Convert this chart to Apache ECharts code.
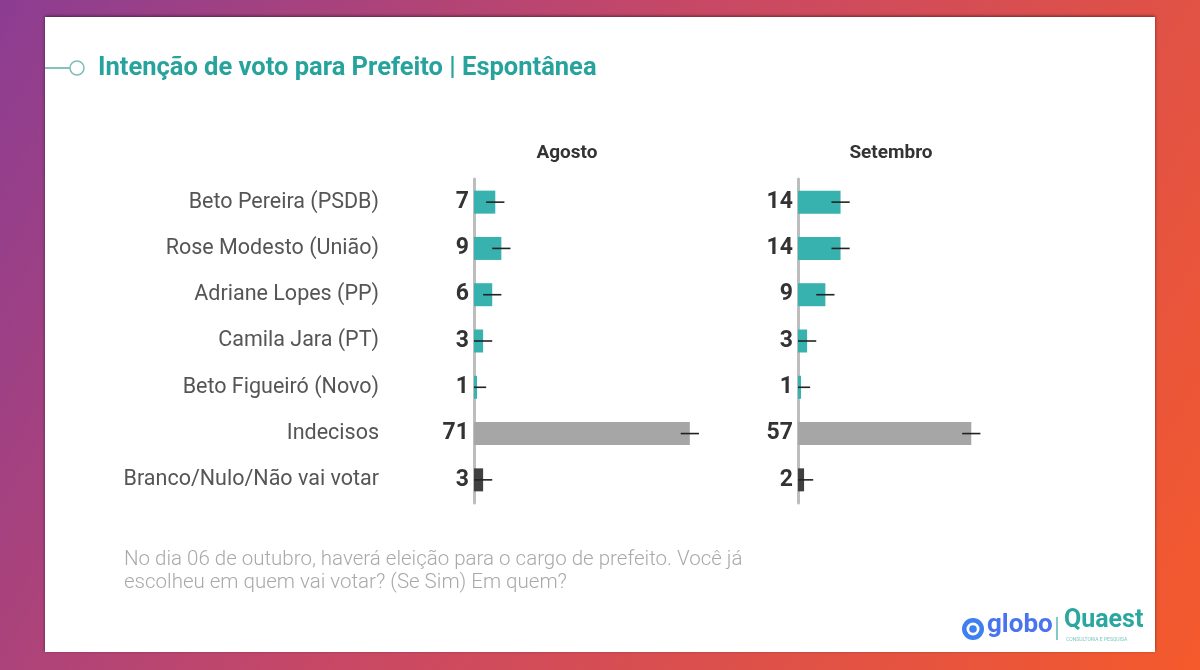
<!DOCTYPE html>
<html><head><meta charset="utf-8">
<script src="https://cdn.jsdelivr.net/npm/echarts@6/dist/echarts.min.js"></script>
<style>html,body{margin:0;padding:0;}#c{width:1200px;height:670px;}</style>
</head><body><div id="c"></div>
<script>
const categories = ['Beto Pereira (PSDB)','Rose Modesto (União)','Adriane Lopes (PP)','Camila Jara (PT)','Beto Figueiró (Novo)','Indecisos','Branco/Nulo/Não vai votar'];
const agosto = [7, 9, 6, 3, 1, 71, 3];
const setembro = [14, 14, 9, 3, 1, 57, 2];
const margin = 3;
const periods = ['Agosto', 'Setembro'];
const barColors = ['#38b2ae','#38b2ae','#38b2ae','#38b2ae','#38b2ae','#a6a6a6','#404040'];

const chart = echarts.init(document.getElementById('c'));
const font = 'Roboto';
const gridLefts = [474, 798];
const grids = gridLefts.map(l => ({left: l, top: 179, width: 304, height: 324}));

function errData(vals){ return vals.map((v,i)=>[i, Math.max(0, v-margin), v+margin]); }

const series = [];
[agosto, setembro].forEach((vals, g) => {
  series.push({
    type: 'bar', xAxisIndex: g, yAxisIndex: g, barWidth: 23,
    data: vals.map((v,i)=>({value: v, itemStyle:{color: barColors[i]}})),
    label: {show: true, position: 'left', distance: 5, color: '#333', fontFamily: font, fontWeight: 'bold', fontSize: 23},
    silent: true, animation: false, z: 2
  });
  series.push({
    type: 'custom', xAxisIndex: g, yAxisIndex: g, z: 3, animation: false, silent: true,
    data: errData(vals),
    renderItem: function(params, api){
      const a = api.coord([api.value(1), api.value(0)]);
      const b = api.coord([api.value(2), api.value(0)]);
      return {type:'line', shape:{x1:a[0], y1:a[1], x2:b[0], y2:b[1]}, style:{stroke:'#222', lineWidth:1.6}};
    }
  });
});

chart.setOption({
  animation: false,
  graphic: [
    {type:'rect', z:-10, shape:{x:0,y:0,width:1200,height:670}, style:{fill:{type:'linear',x:0,y:0,x2:1,y2:1,colorStops:[{offset:0,color:'#8c3d92'},{offset:0.45,color:'#c84865'},{offset:1,color:'#f55a2c'}]}}},
    {type:'rect', z:-9, shape:{x:45,y:17,width:1110,height:635}, style:{fill:'#ffffff', shadowBlur:3, shadowColor:'rgba(0,0,0,0.5)', shadowOffsetY:-1}},
    {type:'line', z:5, shape:{x1:45,y1:68,x2:70,y2:68}, style:{stroke:'#5aaea9', lineWidth:1.5}},
    {type:'circle', z:5, shape:{cx:77,cy:68,r:7}, style:{fill:'#fff', stroke:'#7cbdb9', lineWidth:1.5}},
    {type:'text', z:5, left:98, top:56, style:{text:'Intenção de voto para Prefeito | Espontânea', fill:'#27a39d', font:'bold 25.5px Roboto'}},
    {type:'text', z:5, left:124, top:548, style:{text:'No dia 06 de outubro, haverá eleição para o cargo de prefeito. Você já\nescolheu em quem vai votar? (Se Sim) Em quem?', fill:'#a9a9a9', font:'300 20.5px Roboto', lineHeight:23}},
    {type:'circle', z:5, shape:{cx:973,cy:629,r:11}, style:{fill:'#3f7ff0'}},
    {type:'circle', z:6, shape:{cx:973,cy:629,r:6.5}, style:{fill:'#fff'}},
    {type:'circle', z:7, shape:{cx:973,cy:629,r:3.8}, style:{fill:'#3f7ff0'}},
    {type:'text', z:5, left:987, top:612, style:{text:'globo', fill:'#4a74ef', font:'bold 26px Roboto'}},
    {type:'line', z:5, shape:{x1:1057,y1:617,x2:1057,y2:640}, style:{stroke:'#2ea7a0', lineWidth:1.2}},
    {type:'text', z:5, left:1064, top:608, style:{text:'Quaest', fill:'#2aa8a0', font:'bold 25px Roboto'}},
    {type:'text', z:5, left:1066, top:637, style:{text:'CONSULTORIA E PESQUISA', fill:'#7cc8c2', font:'5px Roboto'}}
  ],
  title: [
    {text: periods[0], left: 562, top: 139, textAlign: 'center', textStyle:{fontFamily: font, fontWeight:'bold', fontSize:19, color:'#333'}},
    {text: periods[1], left: 886, top: 139, textAlign: 'center', textStyle:{fontFamily: font, fontWeight:'bold', fontSize:19, color:'#333'}}
  ],
  grid: grids,
  xAxis: [0,1].map(g => ({gridIndex: g, type:'value', min:0, max:100, show:false})),
  yAxis: [0,1].map(g => ({
    gridIndex: g, type:'category', data: categories, inverse: true,
    axisLine:{show:true, lineStyle:{color:'#bdbdbd', width:3}},
    axisTick:{show:false},
    axisLabel:{show: g===0, margin: 95, color:'#555', fontFamily: font, fontSize: 21.5, align:'right'}
  })),
  series: series
});
</script></body></html>
